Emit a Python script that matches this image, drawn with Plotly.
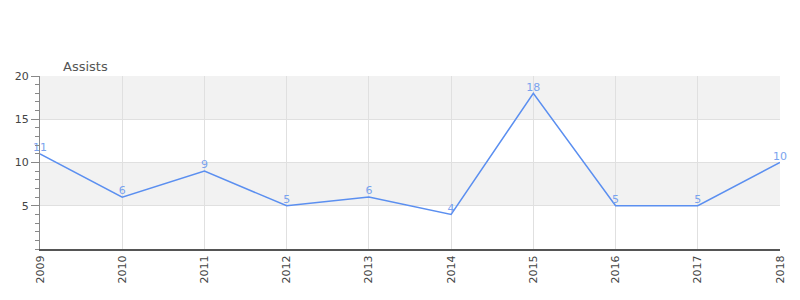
import plotly.graph_objects as go

years = [2009, 2010, 2011, 2012, 2013, 2014, 2015, 2016, 2017, 2018]
assists = [11, 6, 9, 5, 6, 4, 18, 5, 5, 10]
bands = [(5, 10), (15, 20)]

fig = go.Figure()
fig.add_trace(go.Scatter(
    x=years, y=assists, mode="lines+text",
    text=[str(v) for v in assists], textposition="top center",
    textfont=dict(color="#7aa3ee", size=11, family="DejaVu Sans"),
    line=dict(color="#5b8ff0", width=1.5),
    cliponaxis=False, hoverinfo="x+y",
))
for y0, y1 in bands:
    fig.add_shape(type="rect", xref="paper", yref="y", x0=0, x1=1, y0=y0, y1=y1,
                  fillcolor="#f2f2f2", line=dict(width=0), layer="below")

fig.update_layout(
    width=800, height=300, margin=dict(l=40, r=20, t=76, b=51),
    paper_bgcolor="white", plot_bgcolor="white", showlegend=False,
    font=dict(family="DejaVu Sans", size=11, color="#444"),
    annotations=[dict(text="Assists", xref="paper", yref="paper", x=0.029, y=1.0,
                      xanchor="left", yanchor="bottom", showarrow=False,
                      font=dict(size=13, color="#555"), yshift=0)],
)
fig.update_xaxes(
    range=[2009, 2018], tickmode="array", tickvals=years, ticktext=[str(y) for y in years],
    tickangle=-90, showgrid=True, gridcolor="#e0e0e0", gridwidth=1,
    showline=True, linecolor="#555", linewidth=2, ticks="", zeroline=False,
    tickfont=dict(size=11, color="#444"),
)
fig.update_yaxes(
    range=[0, 20], tickvals=[5, 10, 15, 20], showgrid=True, gridcolor="#e0e0e0",
    showline=True, linecolor="#888", linewidth=1, ticks="outside", ticklen=8,
    tickcolor="#888", minor=dict(dtick=1, ticks="outside", ticklen=4, tickcolor="#888", showgrid=False),
    zeroline=True, zerolinecolor="red", zerolinewidth=2,
    tickfont=dict(size=11, color="#444"),
)
fig.write_html("out.html")
